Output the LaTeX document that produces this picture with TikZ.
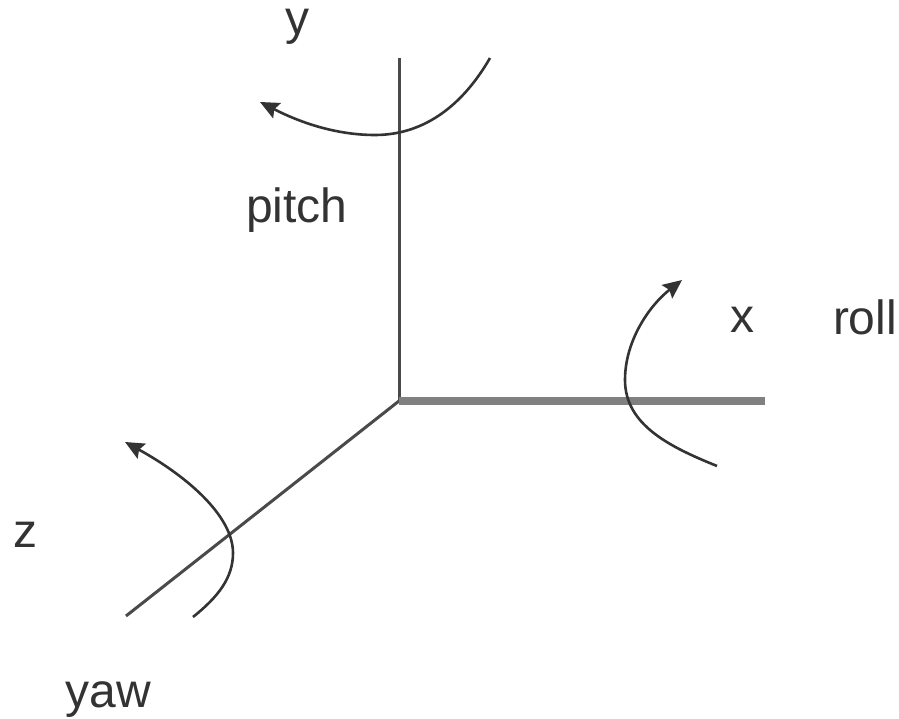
\documentclass[tikz,border=0pt]{standalone}
\usepackage{fontspec}
\setmainfont{Liberation Sans}
\usetikzlibrary{arrows.meta}
\definecolor{ink}{HTML}{4A4A4A}
\definecolor{thickgray}{HTML}{808080}
\tikzset{
  axisline/.style={draw=ink,line width=3pt},
  thickaxis/.style={draw=thickgray,line width=8pt},
  rot/.style={draw=black!80,line width=2.6pt,-{Stealth[length=19pt,width=17pt,inset=3pt]}},
  lab/.style={font=\fontsize{48}{54}\selectfont,text=black!80,inner sep=0pt,anchor=base}
}
\begin{document}
\begin{tikzpicture}[x=1pt,y=-1pt]
\useasboundingbox (0,0) rectangle (899,719);
\coordinate (o) at (399,401);
\coordinate (ytop) at (399,58);
\coordinate (xend) at (765,401);
\coordinate (zend) at (126,616);
\coordinate (p1) at (490,58);
\coordinate (p2) at (260,102);
\coordinate (r1) at (717,466);
\coordinate (r2) at (682,280);
\coordinate (w1) at (193,617);
\coordinate (w2) at (125,442);
\draw[axisline] (o) -- (ytop);
\draw[axisline] (o) -- (zend);
\draw[thickaxis] (o) -- (xend);
\draw[rot] (p1) .. controls (460,110) and (420,135) .. (375,135) .. controls (340,135) and (305,125) .. (p2);
\draw[rot] (r1) .. controls (670,447) and (625,425) .. (625,380) .. controls (625,340) and (650,305) .. (r2);
\draw[rot] (w1) .. controls (218,597) and (233,578) .. (233,553) .. controls (233,515) and (185,475) .. (w2);
\node[lab] (ylab) at (297,35) {y};
\node[lab] (pitch) at (297,223) {pitch};
\node[lab] (xlab) at (742,332) {x};
\node[lab] (roll) at (865,334) {roll};
\node[lab] (zlab) at (25,547) {z};
\node[lab] (yaw) at (108,707) {yaw};
\end{tikzpicture}
\end{document}
